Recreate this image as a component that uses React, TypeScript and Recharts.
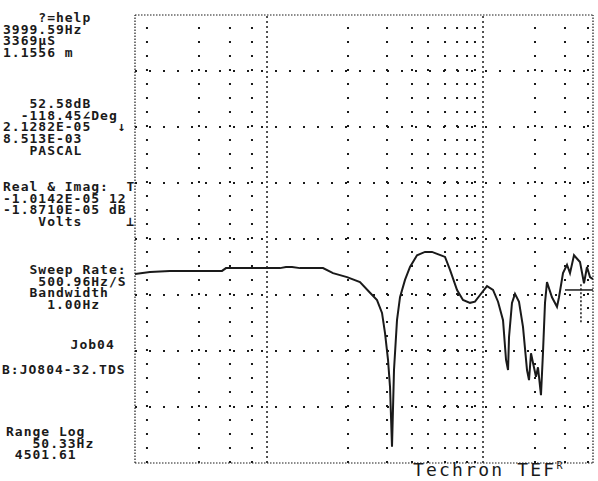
import React from 'react';
import { Line, LineChart, ReferenceLine, XAxis, YAxis } from 'recharts';

// sweep trace (Hz, dB)
const FREQ_HZ = [
  50.33, 58.3, 70.9, 86.4, 105, 118.2, 122.9, 155.5, 208.8, 221.4, 234.9, 254, 280.2, 318.4, 351.2, 403,
  457.6, 505, 540.8, 568, 585, 602.5, 614.4, 626.5, 638.9, 658, 677.7, 711.7, 747.5, 800.8, 866, 927.5,
  1054, 1107, 1186, 1257, 1347, 1414, 1486, 1591, 1688, 1773, 1862, 1918, 1956, 1975, 2033, 2094, 2178,
  2265, 2356, 2403, 2450, 2498, 2573, 2624, 2702, 2755, 2811, 2866, 3010, 3162, 3225, 3354, 3488, 3592,
  3736, 3963, 4121, 4244, 4371, 4501.61,
];
const LEVEL_DB = [
  53.75, 54.1, 54.3, 54.3, 54.3, 54.3, 54.8, 54.8, 54.8, 55.0, 55.0, 54.8, 54.8, 54.8, 53.9, 53.2,
  52.3, 50.4, 49.1, 46.8, 43.2, 38.4, 33.6, 22.9, 36.6, 45.5, 49.6, 52.7, 55.0, 57.1, 57.7, 57.7,
  56.8, 54.5, 50.9, 49.1, 48.6, 48.8, 50.0, 51.6, 50.9, 48.8, 45.5, 38.4, 36.6, 42.5, 48.6, 50.2, 48.8,
  44.3, 36.6, 34.8, 39.6, 37.9, 35.4, 37.1, 32.1, 39.6, 48.6, 52.3, 49.6, 47.9, 49.6, 53.9, 55.4, 53.9,
  57.1, 55.9, 52.1, 55.0, 53.2, 52.8,
];

const RANGE_HZ = [50.33, 4501.61];
const DB_TICKS = [20, 30, 40, 50, 60, 70, 80, 90, 100];
const MAJOR_HZ = [183.8, 1530];
const MINOR_HZ = [56.6, 94.3, 127.8, 158.6, 406.9, 596.6, 762.3, 891.9, 1054, 1186, 1308, 1414, 2548, 3420, 4286];
const CURSOR_HZ = 3999.59;
const CURSOR_FROM_HZ = 3420;
const CURSOR_DB = 50.9;

// readout panel, one block per group (leading spaces give the indent)
const CURSOR_INFO = ['    ?=help', '3999.59Hz', '3369µS', '1.1556 m'];
const LEVEL_INFO = ['   52.58dB', '  -118.45∠Deg', '2.1282E-05   ↓', '8.513E-03', '   PASCAL'];
const SCALE_INFO = ['Real & Imag:  T', '-1.0142E-05 12', '-1.8710E-05 dB', '    Volts     ⊥'];
const SWEEP_INFO = ['   Sweep Rate:', '    500.96Hz/S', '   Bandwidth', '     1.00Hz'];
const JOB_NAME = '        Job04';
const FILE_NAME = 'B:JO804-32.TDS';
const RANGE_INFO = ['Range Log', '   50.33Hz', ' 4501.61'];

const data = FREQ_HZ.map((hz, i) => ({ hz, db: LEVEL_DB[i] }));

const INK = '#1a1a1a';

function Block({ x, y, lines }: { x: number; y: number; lines: string[] }) {
  return (
    <div
      style={{
        position: 'absolute',
        left: x,
        top: y,
        fontFamily: '"DejaVu Sans Mono", monospace',
        fontWeight: 'bold',
        fontSize: 13,
        letterSpacing: 1,
        lineHeight: '11.7px',
        color: INK,
        whiteSpace: 'pre',
      }}
    >
      {lines.join('\n')}
    </div>
  );
}

export default function App() {
  return (
    <div style={{ position: 'absolute', left: 0, top: 0, width: 598, height: 481, background: '#fff' }}>
      <LineChart width={598} height={481} data={data} margin={{ top: 15, right: 5, bottom: 18, left: 135 }}>
        <XAxis dataKey="hz" type="number" scale="log" domain={RANGE_HZ} allowDataOverflow hide />
        <YAxis type="number" domain={[20, 100]} allowDataOverflow hide />
        {DB_TICKS.slice(1, -1).map((d) => (
          <ReferenceLine key={'h' + d} y={d} stroke={INK} strokeWidth={2} strokeDasharray="2 12" />
        ))}
        {MINOR_HZ.map((f) => (
          <ReferenceLine key={'v' + f} x={f} stroke={INK} strokeWidth={2} strokeDasharray="2 12" />
        ))}
        {MAJOR_HZ.map((f) => (
          <ReferenceLine key={'m' + f} x={f} stroke={INK} strokeWidth={1.5} strokeDasharray="2 3" />
        ))}
        <ReferenceLine y={100} stroke={INK} strokeWidth={1.2} strokeDasharray="1.5 1.5" />
        <ReferenceLine y={20} stroke={INK} strokeWidth={1.2} strokeDasharray="1.5 1.5" />
        <ReferenceLine x={RANGE_HZ[0]} stroke={INK} strokeWidth={1.2} strokeDasharray="1.5 1.5" />
        <ReferenceLine x={RANGE_HZ[1]} stroke={INK} strokeWidth={1.2} strokeDasharray="1.5 1.5" />
        <ReferenceLine
          segment={[
            { x: CURSOR_FROM_HZ, y: CURSOR_DB },
            { x: RANGE_HZ[1], y: CURSOR_DB },
          ]}
          stroke={INK}
          strokeWidth={1.5}
        />
        <ReferenceLine
          segment={[
            { x: CURSOR_HZ, y: CURSOR_DB + 1 },
            { x: CURSOR_HZ, y: CURSOR_DB - 6 },
          ]}
          stroke={INK}
          strokeWidth={1.5}
          strokeDasharray="2 2"
        />
        <Line type="linear" dataKey="db" stroke={INK} strokeWidth={2} dot={false} isAnimationActive={false} />
      </LineChart>

      <Block x={3} y={12} lines={CURSOR_INFO} />
      <Block x={3} y={98} lines={LEVEL_INFO} />
      <Block x={3} y={181} lines={SCALE_INFO} />
      <Block x={3} y={264} lines={SWEEP_INFO} />
      <Block x={0} y={339} lines={[JOB_NAME]} />
      <Block x={2} y={364} lines={[FILE_NAME]} />
      <Block x={6} y={426} lines={RANGE_INFO} />

      <div
        style={{
          position: 'absolute',
          left: 413,
          top: 461,
          fontFamily: '"DejaVu Sans Mono", monospace',
          fontSize: 18,
          letterSpacing: 2.2,
          lineHeight: 1,
          color: INK,
          whiteSpace: 'pre',
        }}
      >
        Techron TEF<span style={{ fontSize: 10, verticalAlign: 'top' }}>R</span>
      </div>
    </div>
  );
}
